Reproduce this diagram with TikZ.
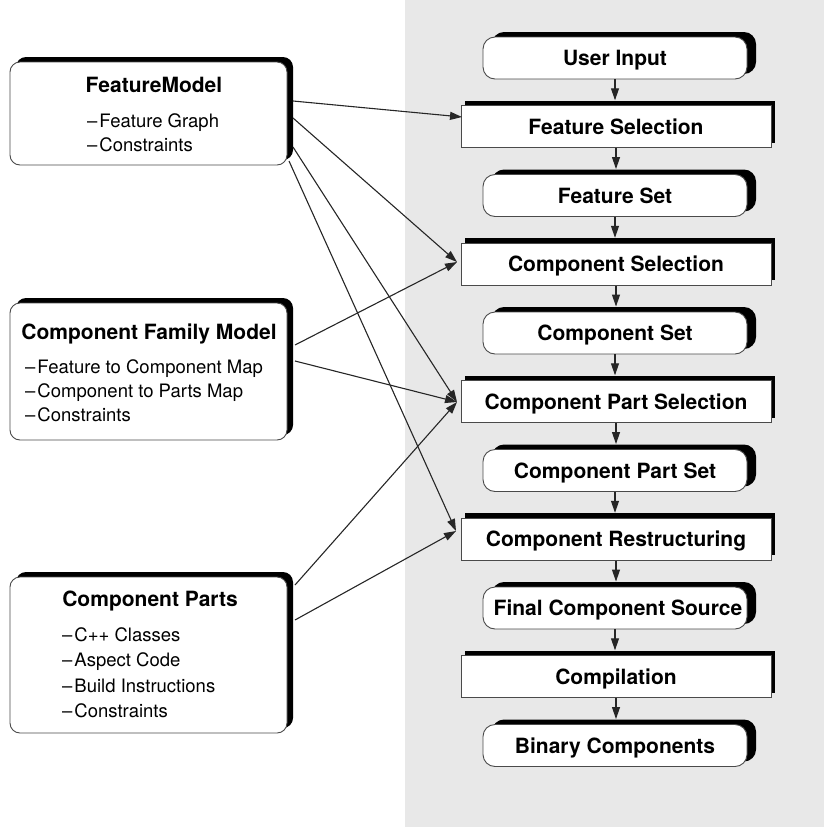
\documentclass[tikz,border=0pt]{standalone}
\usepackage{fontspec}
\setmainfont{TeX Gyre Heros}
\usetikzlibrary{arrows.meta,shadows}
\definecolor{panel}{HTML}{E8E8E8}
\definecolor{edge}{HTML}{4A4A4A}
\newcommand{\li}{\textendash\kern2pt}
\begin{document}
\begin{tikzpicture}[x=1pt,y=-1pt,
  stage/.style={draw=edge, line width=0.9pt, fill=white, minimum height=42pt,
    text height=15pt, text depth=0pt, inner sep=0pt,
    font=\fontsize{21}{24}\selectfont\bfseries},
  result/.style={stage, rounded corners=12pt, minimum width=264pt,
    drop shadow={fill=black, opacity=1, shadow xshift=9pt, shadow yshift=5pt}},
  task/.style={stage, minimum width=310pt,
    drop shadow={fill=black, opacity=1, shadow xshift=4pt, shadow yshift=5pt}},
  source/.style={draw=edge, line width=0.9pt, fill=white, rounded corners=10pt,
    minimum width=277pt, inner sep=0pt,
    drop shadow={fill=black, opacity=1, shadow xshift=6pt, shadow yshift=5pt}},
  title/.style={font=\fontsize{21}{24}\selectfont\bfseries, text height=15pt,
    text depth=0pt, inner sep=0pt},
  item/.style={font=\fontsize{18.5}{22}\selectfont, text height=13pt,
    text depth=0pt, inner sep=0pt, anchor=west},
  flow/.style={draw=black!85, line width=1.1pt, -{Triangle[length=12pt,width=8pt]}},
]
\useasboundingbox (0,0) rectangle (824,827);
\fill[panel] (405,0) rectangle (824,827);

% process chain
\node[result] (ui)    at (615,58)     {User Input};
\node[task]   (fsel)  at (616,126.75) {Feature Selection};
\node[result] (fset)  at (615,195.5)  {Feature Set};
\node[task]   (csel)  at (616,264.25) {Component Selection};
\node[result] (cset)  at (615,333)    {Component Set};
\node[task]   (cpsel) at (616,401.75) {Component Part Selection};
\node[result] (cpset) at (615,470.5)  {Component Part Set};
\node[task]   (cres)  at (616,539.25) {Component Restructuring};
\node[result] (fsrc)  at (615,608)    {\hspace*{6pt}Final Component Source};
\node[task]   (comp)  at (616,676.75) {Compilation};
\node[result] (bin)   at (615,745.5)  {Binary Components};

\foreach \a/\b in {ui/fsel,fsel/fset,fset/csel,csel/cset,cset/cpsel,
                   cpsel/cpset,cpset/cres,cres/fsrc,fsrc/comp,comp/bin}
  \draw[flow] (\a.south) -- ([yshift=5pt]\a.south |- \b.north);

% input models
\node[source, minimum height=103pt] (fm)  at (148.5,113.5) {};
\node[title] (fm-t) at (154,85) {FeatureModel};
\node[item]  (fm-1) at (87,121) {\li Feature Graph};
\node[item]  (fm-2) at (87,145) {\li Constraints};

\node[source, minimum height=137pt] (cfm) at (148.5,371.5) {};
\node[title] (cfm-t) at (149,332) {Component Family Model};
\node[item]  (cfm-1) at (25,367) {\li Feature to Component Map};
\node[item]  (cfm-2) at (25,391) {\li Component to Parts Map};
\node[item]  (cfm-3) at (25,415) {\li Constraints};

\node[source, minimum height=156pt] (cp) at (148.5,655) {};
\node[title] (cp-t) at (150,599) {Component Parts};
\node[item]  (cp-1) at (62,635) {\li C++ Classes};
\node[item]  (cp-2) at (62,660) {\li Aspect Code};
\node[item]  (cp-3) at (62,686) {\li Build Instructions};
\node[item]  (cp-4) at (62,711) {\li Constraints};

% connector ends
\coordinate (fm-a)  at (293,101);
\coordinate (fm-b)  at (293,118);
\coordinate (fm-c)  at (293,147);
\coordinate (fm-d)  at (289,161);
\coordinate (cfm-a) at (295,345);
\coordinate (cfm-b) at (295,361);
\coordinate (cp-a)  at (295,585);
\coordinate (cp-b)  at (295,620);
\coordinate (fsel-in)  at (462,117);
\coordinate (csel-in)  at (457,262);
\coordinate (cpsel-in) at (457,402);
\coordinate (cres-in)  at (456,531);

\draw[flow] (fm-a) -- (fsel-in);
\draw[flow] (fm-b) -- (csel-in);
\draw[flow] (fm-c) -- (cpsel-in);
\draw[flow] (fm-d) -- (cres-in);
\draw[flow] (cfm-a) -- (csel-in);
\draw[flow] (cfm-b) -- (cpsel-in);
\draw[flow] (cp-a) -- (cpsel-in);
\draw[flow] (cp-b) -- (cres-in);
\end{tikzpicture}
\end{document}
